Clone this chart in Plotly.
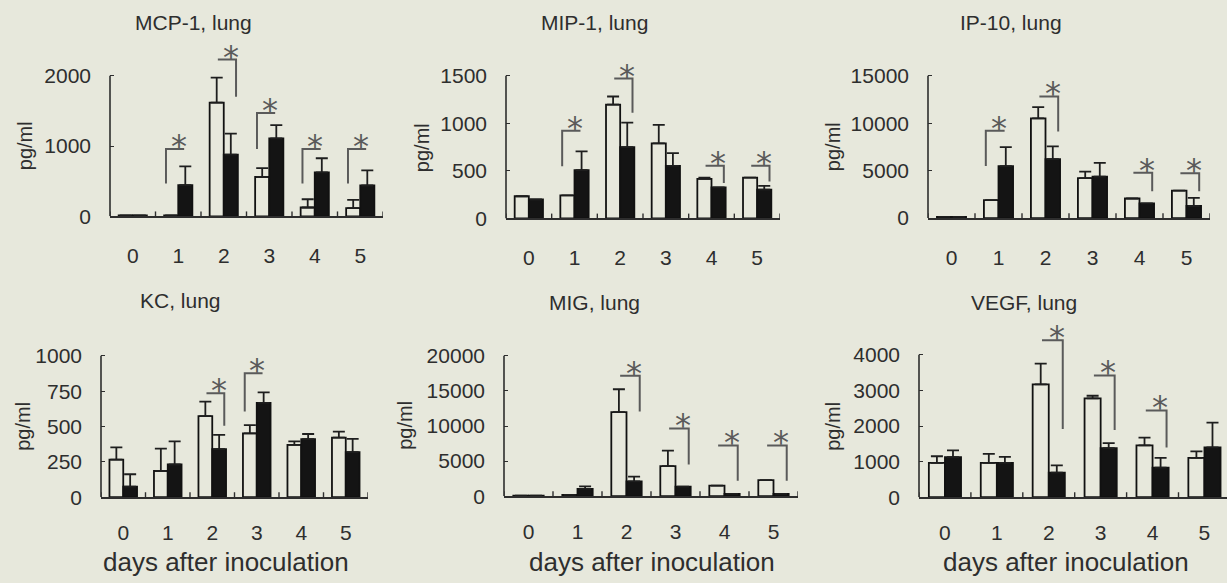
import plotly.graph_objects as go

W, H = 1227, 583
BG = "#e7e8dc"
INK = "#2e2e2e"
GREY = "#5a5a5a"
FONT = "Liberation Sans, Arial, sans-serif"

# ---------------- data ----------------
days = [0, 1, 2, 3, 4, 5]
day_labels = ["0", "1", "2", "3", "4", "5"]
titles = ["MCP-1, lung", "MIP-1, lung", "IP-10, lung", "KC, lung", "MIG, lung", "VEGF, lung"]

mcp_white = [15, 12, 1620, 560, 126, 117]
mcp_white_err = [0, 0, 355, 126, 117, 117]
mcp_black = [15, 444, 878, 1111, 626, 439]
mcp_black_err = [0, 266, 299, 187, 201, 215]
mcp_sig_days = [1, 2, 3, 4, 5]
mcp_sig_top = [957, 2232, 1471, 957, 957]
mcp_sig_bottom = [467, 1704, 957, 467, 467]
mcp_ticks = [0, 1000, 2000]

mip_white = [234, 244, 1197, 791, 416, 430]
mip_white_err = [0, 0, 86, 193, 14, 0]
mip_black = [200, 509, 750, 554, 327, 303]
mip_black_err = [0, 196, 258, 134, 0, 41]
mip_sig_days = [1, 2, 4, 5]
mip_sig_top = [922, 1472, 554, 554]
mip_sig_bottom = [550, 1111, 372, 389]
mip_ticks = [0, 500, 1000, 1500]

ip10_white = [120, 1897, 10522, 4209, 2070, 2898]
ip10_white_err = [0, 0, 1174, 690, 0, 0]
ip10_black = [120, 5485, 6210, 4381, 1552, 1276]
ip10_black_err = [0, 2002, 1346, 1449, 0, 863]
ip10_sig_days = [1, 2, 4, 5]
ip10_sig_top = [9211, 12834, 4795, 4726]
ip10_sig_bottom = [5485, 9142, 2829, 2829]
ip10_ticks = [0, 5000, 10000, 15000]

kc_white = [266, 185, 574, 451, 370, 421]
kc_white_err = [86, 158, 102, 58, 24, 42]
kc_black = [74, 231, 340, 667, 410, 319]
kc_black_err = [88, 163, 100, 74, 37, 93]
kc_sig_days = [2, 3]
kc_sig_top = [736, 877]
kc_sig_bottom = [505, 606]
kc_ticks = [0, 250, 500, 750, 1000]

mig_white = [80, 186, 11976, 4287, 1491, 2283]
mig_white_err = [0, 0, 3262, 2190, 0, 0]
mig_black = [80, 1025, 2097, 1351, 326, 326]
mig_black_err = [0, 373, 699, 0, 0, 0]
mig_sig_days = [2, 3, 4, 5]
mig_sig_top = [17149, 9646, 7223, 7223]
mig_sig_bottom = [12069, 4520, 2190, 2190]
mig_ticks = [0, 5000, 10000, 15000, 20000]

vegf_white = [966, 966, 3172, 2777, 1453, 1103]
vegf_white_err = [183, 248, 580, 73, 220, 184]
vegf_black = [1122, 966, 690, 1379, 828, 1398]
vegf_black_err = [193, 165, 202, 138, 275, 699]
vegf_sig_days = [2, 3, 4]
vegf_sig_top = [4414, 3421, 2437]
vegf_sig_bottom = [1913, 1885, 1398]
vegf_ticks = [0, 1000, 2000, 3000, 4000]

panels_data = [
    (mcp_white, mcp_white_err, mcp_black, mcp_black_err, mcp_sig_days, mcp_sig_top, mcp_sig_bottom, mcp_ticks),
    (mip_white, mip_white_err, mip_black, mip_black_err, mip_sig_days, mip_sig_top, mip_sig_bottom, mip_ticks),
    (ip10_white, ip10_white_err, ip10_black, ip10_black_err, ip10_sig_days, ip10_sig_top, ip10_sig_bottom, ip10_ticks),
    (kc_white, kc_white_err, kc_black, kc_black_err, kc_sig_days, kc_sig_top, kc_sig_bottom, kc_ticks),
    (mig_white, mig_white_err, mig_black, mig_black_err, mig_sig_days, mig_sig_top, mig_sig_bottom, mig_ticks),
    (vegf_white, vegf_white_err, vegf_black, vegf_black_err, vegf_sig_days, vegf_sig_top, vegf_sig_bottom, vegf_ticks),
]

# ---------------- layout (pixels) ----------------
# x-left, x-right, y of zero, y of top tick, top of plotting domain
geom = [
    (110, 383, 220.5, 77.3, 40),
    (506, 780, 222.7, 77.3, 40),
    (928, 1210, 222.3, 77.3, 40),
    (101, 368, 506.7, 362.7, 330),
    (504, 798, 505.7, 362.7, 330),
    (919, 1227, 506.7, 361.7, 330),
]
title_pos = [(193, 23), (594, 23), (1011, 23), (180, 306), (594, 308), (1024, 308)]
ylab_pos = [(25, 149), (422, 150), (833, 150), (23, 435), (405, 434), (833, 435)]
xlab_pos = [(226, 573), (652, 573), (1066, 573)]

fig = go.Figure()
shapes = []
annotations = []
layout_axes = {}

for i, (wv, we, bv, be, sdays, stop, sbot, yt) in enumerate(panels_data):
    n = i + 1
    xa = "x" if n == 1 else f"x{n}"
    ya = "y" if n == 1 else f"y{n}"
    xl, xr, y0, ytp, ydt = geom[i]
    spacing = (xr - xl) / 6.0 if i != 5 else 51.9
    xmax = -0.5 + (xr - xl) / spacing
    topv = yt[-1]
    ymax = topv * (y0 - ydt) / (y0 - ytp)
    dom_h = y0 - ydt

    fig.add_trace(go.Bar(
        x=days, y=wv, xaxis=xa, yaxis=ya, offsetgroup="w", showlegend=False,
        marker=dict(color=BG, line=dict(color="#111111", width=1.8)),
        error_y=dict(type="data", symmetric=False, array=we, arrayminus=[0] * 6,
                     color="#1e1e1e", thickness=1.8, width=6),
    ))
    fig.add_trace(go.Bar(
        x=days, y=bv, xaxis=xa, yaxis=ya, offsetgroup="b", showlegend=False,
        marker=dict(color="#141414", line=dict(color="#111111", width=1.8)),
        error_y=dict(type="data", symmetric=False, array=be, arrayminus=[0] * 6,
                     color="#1e1e1e", thickness=1.8, width=6),
    ))

    layout_axes["xaxis" if n == 1 else f"xaxis{n}"] = dict(
        domain=[xl / W, min(xr / W, 1.0)], range=[-0.5, xmax], anchor=ya,
        tickmode="array", tickvals=days, ticktext=day_labels, ticks="",
        showline=True, linecolor=INK, linewidth=1.6, showgrid=False, zeroline=False,
        tickfont=dict(family=FONT, size=21, color=INK),
        ticklabelstandoff=20 if i < 3 else 16,
        fixedrange=True,
    )
    layout_axes["yaxis" if n == 1 else f"yaxis{n}"] = dict(
        domain=[1 - y0 / H, 1 - ydt / H], range=[0, ymax], anchor=xa,
        tickmode="array", tickvals=yt, ticktext=[str(v) for v in yt],
        ticks="inside", ticklen=4, tickwidth=1.4, tickcolor=INK,
        showline=False, showgrid=False, zeroline=False,
        tickfont=dict(family=FONT, size=21, color=INK), ticklabelstandoff=18,
        fixedrange=True,
    )
    # y axis line only up to top tick
    shapes.append(dict(type="line", xref=f"{xa} domain", yref=ya, x0=0, x1=0, y0=0, y1=topv,
                       line=dict(color=INK, width=1.6)))
    # small inside ticks between day groups on the x axis
    for bnd in [d + 0.5 for d in [-1] + days]:
        if bnd <= xmax:
            shapes.append(dict(type="line", xref=xa, yref=f"{ya} domain", x0=bnd, x1=bnd,
                               y0=0, y1=5.0 / dom_h, line=dict(color=INK, width=1.4)))

    # significance brackets
    for d, t, b in zip(sdays, stop, sbot):
        side = -1 if wv[d] < bv[d] else 1
        vx = d + side * 0.27
        hx = d - side * 0.13
        shapes.append(dict(type="path", xref=xa, yref=ya,
                           path=f"M {hx},{t} L {vx},{t} L {vx},{b}",
                           line=dict(color=GREY, width=2)))
        annotations.append(dict(text="*", x=(vx + hx) / 2 + 0.08, y=t, xref=xa, yref=ya,
                                xanchor="center", yanchor="bottom", yshift=-18, showarrow=False,
                                font=dict(family="DejaVu Sans", size=32, color=GREY)))

    tx, ty = title_pos[i]
    annotations.append(dict(text=titles[i], x=tx / W, y=1 - ty / H, xref="paper", yref="paper",
                            xanchor="center", yanchor="middle", showarrow=False,
                            font=dict(family=FONT, size=21, color=INK)))
    px, py = ylab_pos[i]
    annotations.append(dict(text="pg/ml", x=px / W, y=1 - py / H, xref="paper", yref="paper",
                            xanchor="center", yanchor="middle", textangle=-90, showarrow=False,
                            font=dict(family=FONT, size=20, color=INK)))

for (px, py) in xlab_pos:
    annotations.append(dict(text="days after inoculation", x=px / W, y=1 - py / H,
                            xref="paper", yref="paper", xanchor="center", yanchor="middle",
                            showarrow=False, font=dict(family=FONT, size=26, color=INK)))

fig.update_layout(
    width=W, height=H, autosize=False,
    margin=dict(l=0, r=0, t=0, b=0),
    paper_bgcolor=BG, plot_bgcolor=BG,
    barmode="group", bargap=0.38, bargroupgap=0,
    shapes=shapes, annotations=annotations,
    **layout_axes,
)

fig.write_html("out.html", config={"displayModeBar": False})
